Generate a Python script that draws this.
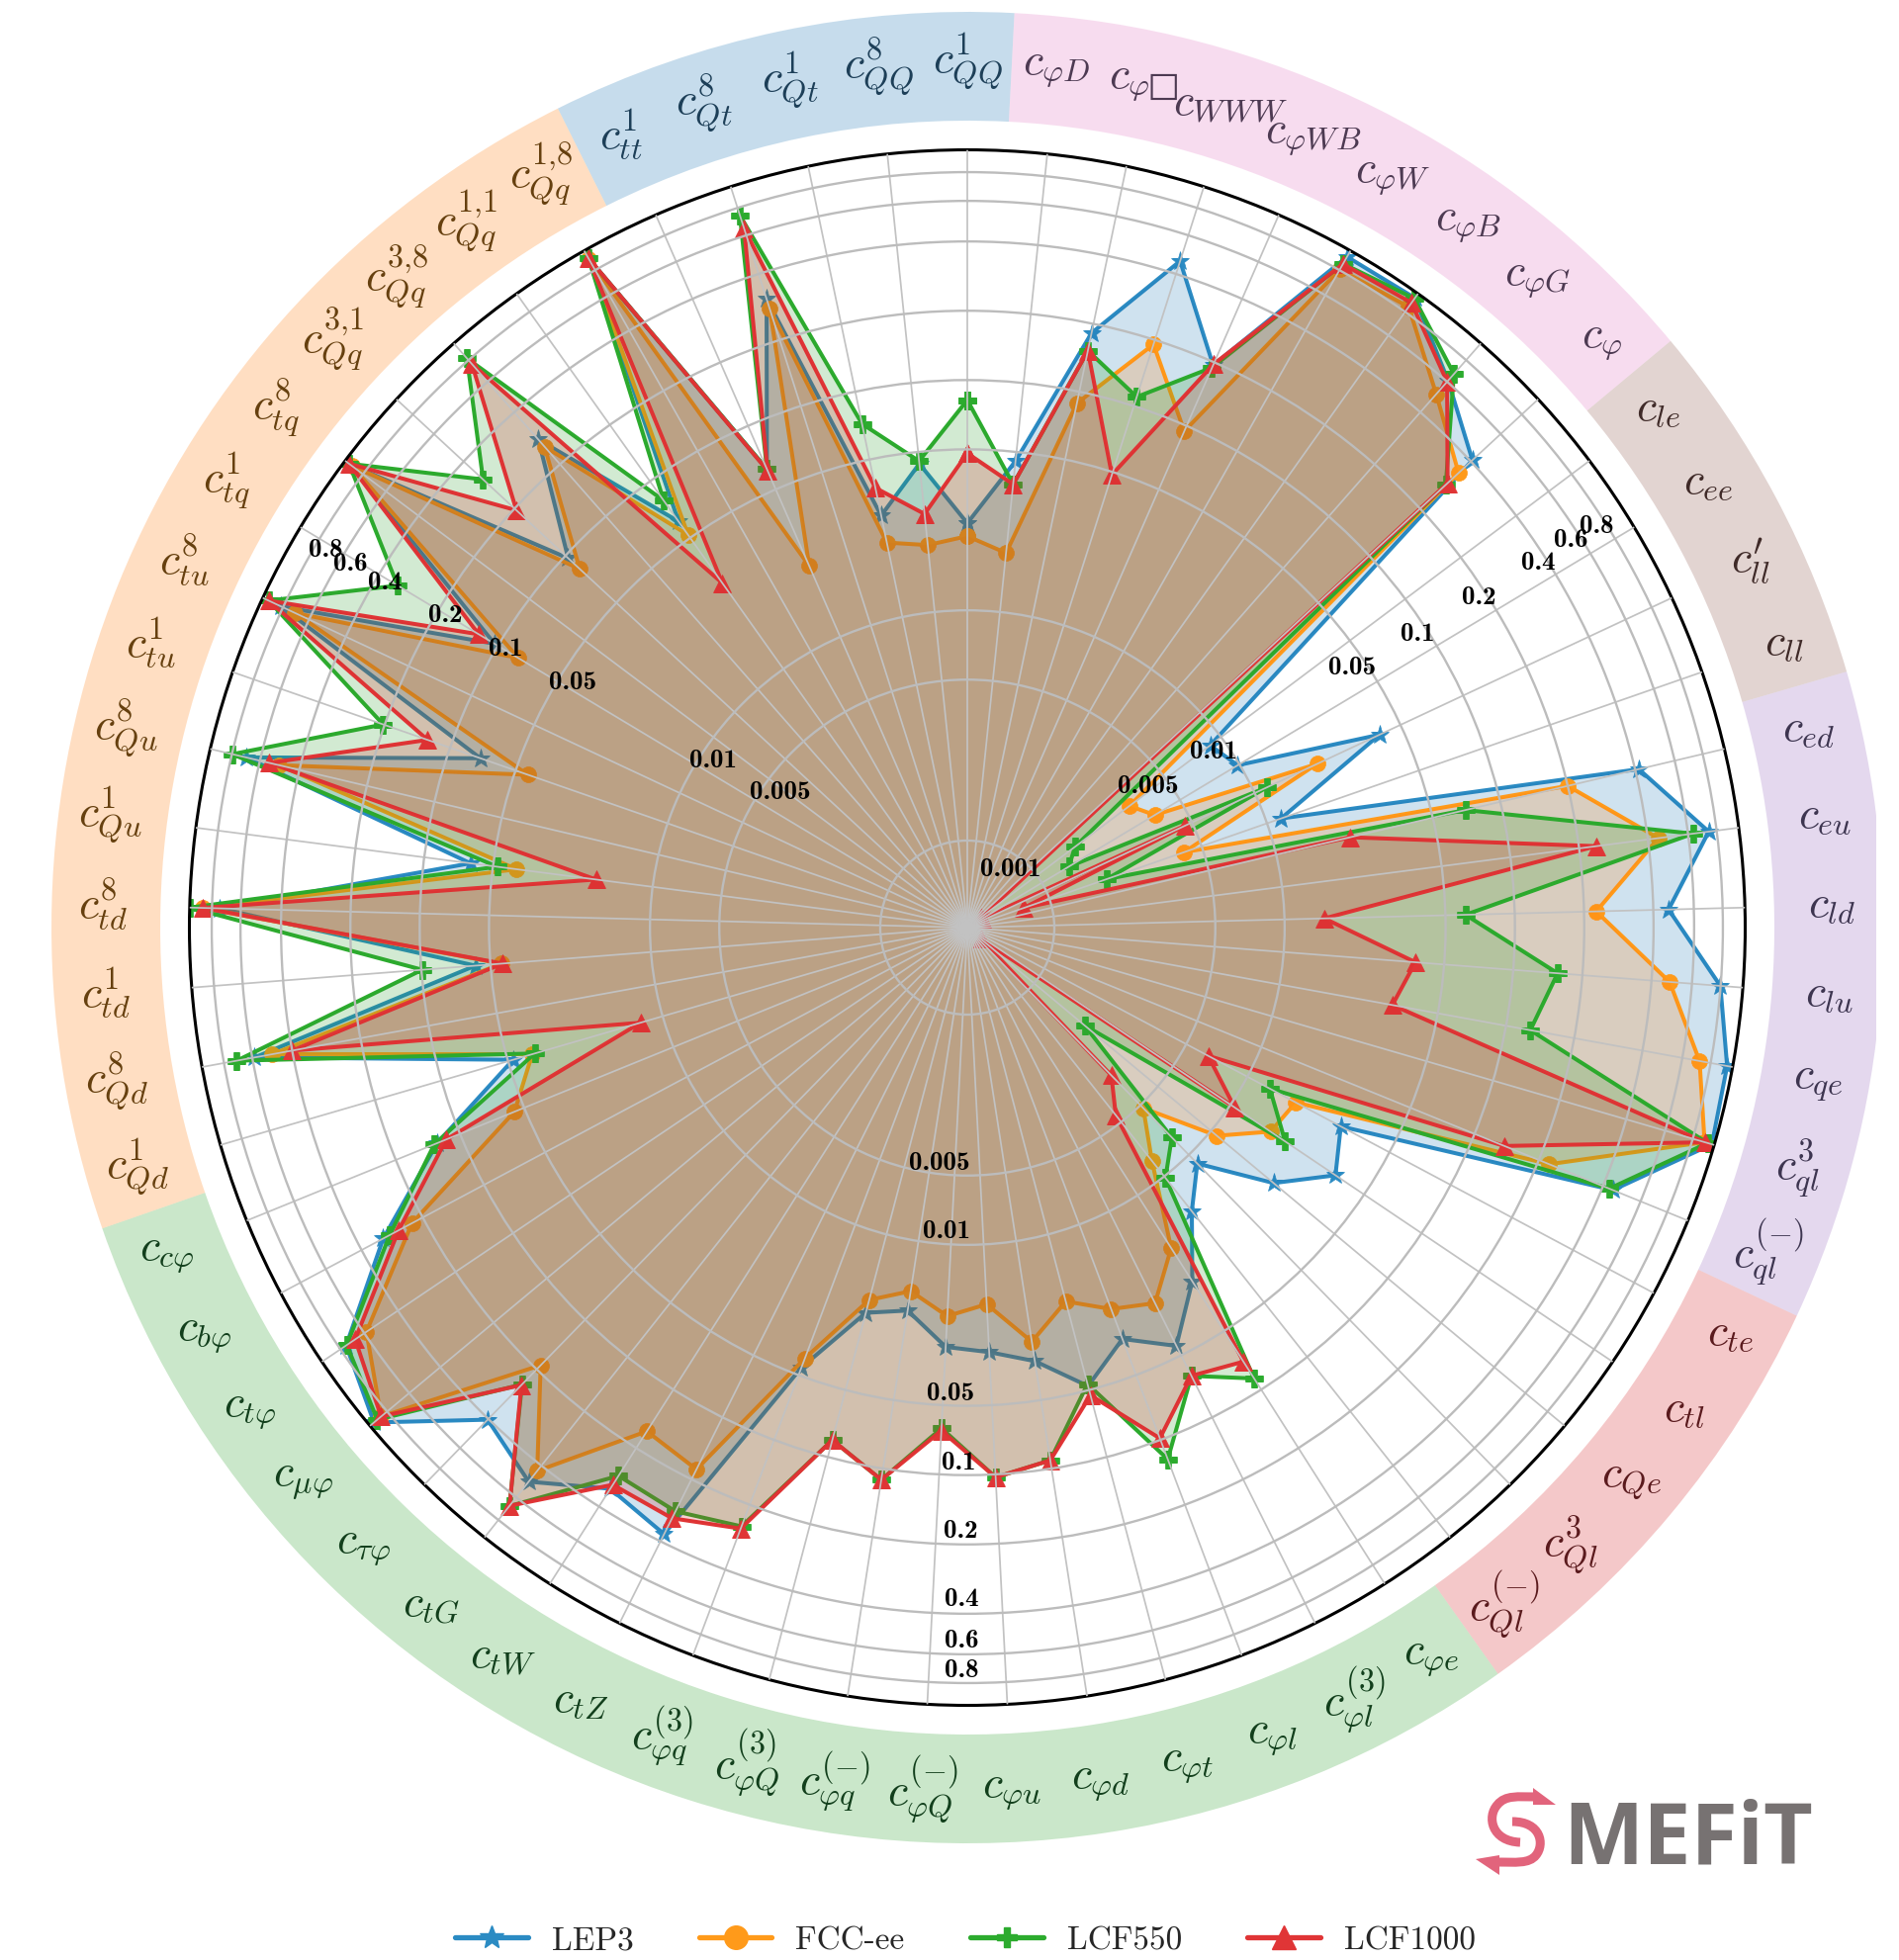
import numpy as np, pandas as pd, seaborn as sns
import matplotlib
matplotlib.use("Agg")
import matplotlib.pyplot as plt
from matplotlib.lines import Line2D
from matplotlib.patches import Wedge, PathPatch, Polygon
from matplotlib.path import Path
from matplotlib.ticker import NullLocator

sns.set_theme(style="white")
plt.rcParams["mathtext.fontset"] = "cm"
plt.rcParams["axes.unicode_minus"] = False

# ---- data -------------------------------------------------------------
coefficients = [
 r"c_{QQ}^{1}", r"c_{\varphi D}", "c_{\\varphi \u25a1}", r"c_{WWW}", r"c_{\varphi WB}", r"c_{\varphi W}",
 r"c_{\varphi B}", r"c_{\varphi G}", r"c_{\varphi}", r"c_{le}", r"c_{ee}", r"c_{ll}^{\prime}", r"c_{ll}",
 r"c_{ed}", r"c_{eu}", r"c_{ld}", r"c_{lu}", r"c_{qe}", r"c_{ql}^{3}", r"c_{ql}^{(-)}",
 r"c_{te}", r"c_{tl}", r"c_{Qe}", r"c_{Ql}^{3}", r"c_{Ql}^{(-)}",
 r"c_{\varphi e}", r"c_{\varphi l}^{(3)}", r"c_{\varphi l}", r"c_{\varphi t}", r"c_{\varphi d}", r"c_{\varphi u}",
 r"c_{\varphi Q}^{(-)}", r"c_{\varphi q}^{(-)}", r"c_{\varphi Q}^{(3)}", r"c_{\varphi q}^{(3)}", r"c_{tZ}", r"c_{tW}",
 r"c_{tG}", r"c_{\tau\varphi}", r"c_{\mu\varphi}", r"c_{t\varphi}", r"c_{b\varphi}", r"c_{c\varphi}",
 r"c_{Qd}^{1}", r"c_{Qd}^{8}", r"c_{td}^{1}", r"c_{td}^{8}", r"c_{Qu}^{1}", r"c_{Qu}^{8}", r"c_{tu}^{1}", r"c_{tu}^{8}",
 r"c_{tq}^{1}", r"c_{tq}^{8}", r"c_{Qq}^{3{,}1}", r"c_{Qq}^{3{,}8}", r"c_{Qq}^{1{,}1}", r"c_{Qq}^{1{,}8}",
 r"c_{tt}^{1}", r"c_{Qt}^{8}", r"c_{Qt}^{1}", r"c_{QQ}^{8}",
]
lep3 = [.0239,.0456,.182,.458,.194,.933,.948,.609,.408,.00872,.00981,.0397,.0116,.415,.739,.466,.798,.946,.976,.445,
        .0288,.0354,.0226,.0113,.0156,.0277,.045,.034,.048,.0337,.0294,.0279,.0202,.0225,.0462,.369,.324,.491,.404,.949,
        .747,.313,.128,.0475,.586,.0582,.743,.0628,.692,.0726,.816,.104,.936,.0963,.278,.0612,.918,.0624,.308,.0282,.0444]
fcc_ee = [.021,.0181,.0888,.191,.0944,.806,.851,.509,.338,.00318,.00373,.0199,.00416,.2,.445,.226,.48,.715,.905,.224,
          .0173,.0162,.0108,.00521,.0082,.0187,.0279,.0247,.02,.0277,.0182,.0205,.0166,.0197,.0418,.179,.164,.428,.189,.865,
          .585,.226,.0556,.0389,.49,.0448,.88,.0394,.495,.0439,.699,.0789,.921,.0823,.253,.0519,.913,.0217,.278,.0214,.0196]
lcf550 = [.0819,.0361,.152,.11,.189,.861,.941,.665,.284,.00161,.00137,.0114,.00183,.07,.631,.0611,.156,.128,.934,.428,
          .0129,.0193,.00193,.00784,.0102,.0877,.0629,.123,.047,.092,.103,.063,.112,.0839,.252,.286,.278,.67,.247,.909,
          .741,.291,.132,.0379,.703,.0991,.998,.0479,.797,.203,.938,.322,.953,.307,.819,.079,.916,.0624,.741,.072,.0456]
lcf1000 = [.0481,.0361,.152,.0486,.196,.858,.894,.6,.291,.0005,.0005,.00461,.000761,.0214,.238,.0149,.0375,.0315,.909,.138,
           .00641,.0105,.0005,.0033,.00458,.0718,.0629,.0983,.0528,.092,.103,.0646,.112,.0839,.258,.309,.309,.668,.249,.865,
           .67,.263,.116,.0126,.4,.0443,.88,.0177,.545,.127,.938,.125,.954,.195,.76,.0287,.923,.0615,.645,.0374,.0268]
series_names = ["LEP3", "FCC-ee", "LCF550", "LCF1000"]
radial_ticks = [0.001, 0.005, 0.01, 0.05, 0.1, 0.2, 0.4, 0.6, 0.8]
# first/last spoke index of each coefficient class, ring colour, text colour
group_start = [-4, 1, 9, 13, 20, 25, 43]
group_end = [0, 8, 12, 19, 24, 42, 56]
group_color = ["tab:blue", "tab:pink", "tab:brown", "tab:purple", "tab:red", "tab:green", "tab:orange"]
group_text = ["#1d3f58", "#4d3a52", "#3f2a28", "#3d3550", "#5a1a1d", "#123f1c", "#66400f"]

# ---- style / layout ----------------------------------------------------
W, H = 1920, 1983
CX, CY, R = 978, 939, 786.5
RMIN = 10 ** -3.378
colors = ["#2b8bc3", "#ff9a1a", "#2cab2e", "#e03536"]
fill_colors = ["tab:blue", "tab:orange", "tab:green", "tab:red"]
markers = ["*", "o", "P", "^"]
sizes = [14, 11.5, 12.5, 13]
FILL_ALPHA = 0.21

fig = plt.figure(figsize=(W / 100, H / 100), dpi=100, facecolor="white")
ax = fig.add_axes([(CX - R) / W, (H - CY - R) / H, 2 * R / W, 2 * R / H], projection="polar")
ax.set_theta_zero_location("N")
ax.set_theta_direction(-1)
ax.set_rscale("log")

n = len(coefficients)
theta = np.arange(n + 1) * 2 * np.pi / n
frames = []
for name, vals in zip(series_names, [lep3, fcc_ee, lcf550, lcf1000]):
    frames.append(pd.DataFrame({"theta": theta, "value": list(vals) + [vals[0]], "collider": name}))
df = pd.concat(frames, ignore_index=True)

for k, name in enumerate(series_names):
    sub = df[df.collider == name]
    sns.lineplot(data=sub, x="theta", y="value", sort=False, estimator=None, ax=ax,
                 color=colors[k], marker=markers[k], markersize=sizes[k], markeredgecolor=colors[k],
                 markeredgewidth=0.5, linewidth=2.9, legend=False, zorder=1 + 0.2 * k)
    ax.fill(sub.theta.values, sub.value.values, color=fill_colors[k], alpha=FILL_ALPHA, lw=0, zorder=1.1 + 0.2 * k)

ax.set_xlabel(""); ax.set_ylabel("")
ax.set_rlim(RMIN, 1)
ax.set_xticks(theta[:-1]); ax.set_xticklabels([])
ax.set_yticks(radial_ticks); ax.set_yticklabels([])
ax.yaxis.set_minor_locator(NullLocator())
ax.tick_params(length=0)
ax.set_axisbelow(False)
ax.xaxis.grid(True, color="#c2c2c2", lw=1.25)
ax.yaxis.grid(True, color="#bcbcbc", lw=1.7)
ax.spines["polar"].set_edgecolor("black")
ax.spines["polar"].set_linewidth(2.2)

# overlay in pixel units, cut at the right like the reference
PX_RIGHT = 1897
ov = fig.add_axes([0, 0, PX_RIGHT / W, 1], zorder=5)
ov.set_xlim(0, PX_RIGHT); ov.set_ylim(0, H); ov.axis("off")
step = 360 / n
Y = lambda y: H - y
for s, e, c in zip(group_start, group_end, group_color):
    t1, t2 = (s - .5) * step, (e + .5) * step
    ov.add_patch(Wedge((CX, Y(CY)), 926, 90 - t2, 90 - t1, width=110, facecolor=c, alpha=0.25, lw=0))
for i, lab in enumerate(coefficients):
    g = next(j for j, (s, e) in enumerate(zip(group_start, group_end)) if s <= i <= e or s <= i - n <= e)
    a = np.deg2rad(i * step)
    ov.text(CX + 874 * np.sin(a), Y(CY - 874 * np.cos(a)) + 2, f"${lab}$", color=group_text[g],
            fontsize=33, ha="center", va="center", clip_on=False)

# radial value labels (three columns, pixel anchors measured in the 1518 px preview)
SC = 1920 / 1518
tick_text = ["0.001", "0.005", "0.01", "0.05", "0.1", "0.2", "0.4", "0.6", "0.8"]
col_right = [(808, 695), (918, 629), (970, 601), (1081, 534), (1133, 507), (1182, 478), (1230, 450), (1256, 432), (1276, 421)]
col_left = [None, (624, 634), (570, 608), (458, 546), (404, 519), (356, 492), (308, 466), (280, 451), (260, 440)]
col_down = [None, (751, 930), (757, 985), (760, 1114), (766, 1170), (768, 1224), (769, 1279), (769, 1312), (769, 1336)]
for col in (col_right, col_left, col_down):
    for txt, p in zip(tick_text, col):
        if p is not None:
            ov.text(p[0] * SC, Y(p[1] * SC), txt, family="cmb10", fontsize=19.5, color="black",
                    ha="center", va="center", zorder=10)

# legend
handles = [Line2D([], [], color=c, marker=m, markersize=ms, lw=3.8, markeredgecolor=c)
           for c, m, ms in zip(colors, markers, [18, 17, 15, 17])]
fig.legend(handles, series_names, ncol=4, frameon=False, loc="center",
           bbox_to_anchor=(976 / W, 1 - 1963 / H), prop={"family": "cmr10", "size": 24},
           handlelength=2.2, handletextpad=0.72, columnspacing=2.0, borderaxespad=0, borderpad=0)

# SMEFiT logo
ov.text(1580, Y(1885), "MEFiT", family="Open Sans", weight="bold", fontsize=62, color="#777272", ha="left", va="baseline")
pink = "#e2647c"
top = Path([(1552, Y(1818)), (1535, Y(1818)), (1522, Y(1816)), (1514, Y(1826)), (1503, Y(1838)), (1508, Y(1863)), (1537, Y(1864))],
           [Path.MOVETO] + [Path.CURVE4] * 6)
low = Path([(1529, Y(1843)), (1558, Y(1843)), (1562, Y(1866)), (1553, Y(1877)), (1546, Y(1886)), (1532, Y(1884)), (1514, Y(1884))],
           [Path.MOVETO] + [Path.CURVE4] * 6)
for p in (top, low):
    ov.add_patch(PathPatch(p, facecolor="none", edgecolor=pink, lw=6.5, capstyle="butt"))
ov.add_patch(Polygon([(1550, Y(1809)), (1573, Y(1826)), (1550, Y(1826))], facecolor=pink, lw=0))
ov.add_patch(Polygon([(1516, Y(1897)), (1492, Y(1881)), (1516, Y(1877))], facecolor=pink, lw=0))

fig.savefig("out.png", dpi=100, facecolor="white")
